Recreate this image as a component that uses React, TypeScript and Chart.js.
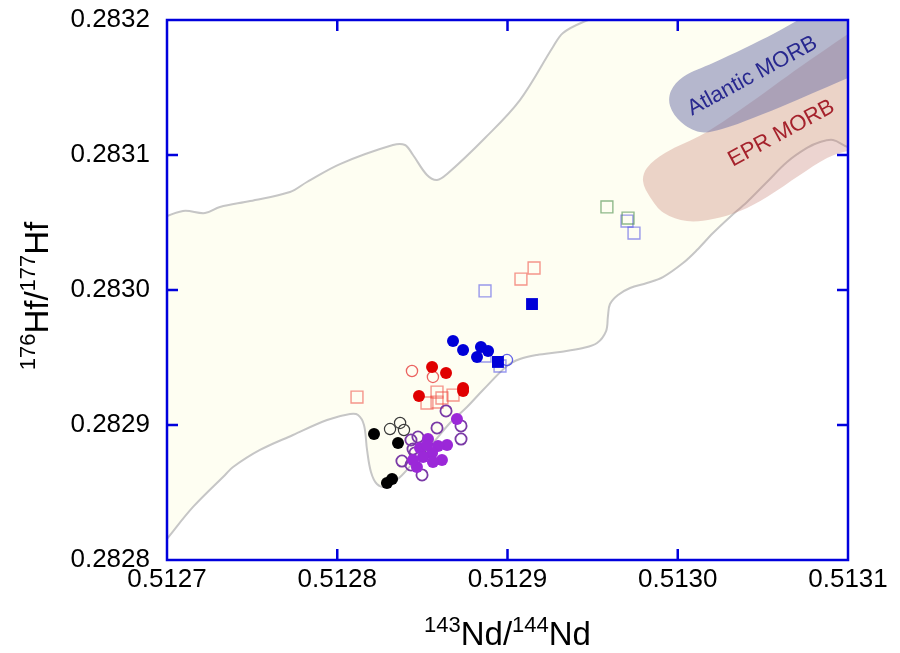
import React, { useEffect, useRef } from 'react';
import { Chart, registerables } from 'chart.js';

Chart.register(...registerables);

// Axis ticks
const ND_TICKS = [0.5127, 0.5128, 0.5129, 0.513, 0.5131];
const HF_TICKS = [0.2828, 0.2829, 0.283, 0.2831, 0.2832];

// Shaded mantle array envelope outline, [143Nd/144Nd, 176Hf/177Hf]
const envelopeOutline: [number, number][] = [
  [0.512693, 0.2830511], [0.5127094, 0.2830585], [0.5127223, 0.283057], [0.5127311, 0.2830615],
  [0.5127488, 0.2830659], [0.5127722, 0.2830726], [0.5127822, 0.28308], [0.5128016, 0.2830933],
  [0.5128327, 0.2831074], [0.5128398, 0.2831074], [0.5128445, 0.2831], [0.5128527, 0.2830852],
  [0.5128586, 0.2830815], [0.5128645, 0.2830859], [0.5128868, 0.2831126], [0.5129073, 0.2831407],
  [0.5129267, 0.28318], [0.5129326, 0.2831904], [0.5129444, 0.2831985], [0.5129573, 0.2832037],
  [0.5129778, 0.2832111], [0.5131129, 0.2832111], [0.5131129, 0.2831037],
  [0.5131, 0.2831059], [0.5130912, 0.2831111], [0.5130836, 0.2831096], [0.5130759, 0.2831052],
  [0.5130642, 0.2830948], [0.5130524, 0.28308], [0.5130407, 0.2830652], [0.5130307, 0.2830541],
  [0.5130207, 0.2830422], [0.5130113, 0.2830296], [0.5130031, 0.28302], [0.5129913, 0.2830096],
  [0.5129819, 0.2830052], [0.512972, 0.2830015], [0.5129649, 0.2829963], [0.5129602, 0.2829896],
  [0.512959, 0.2829807], [0.5129579, 0.2829696], [0.5129526, 0.2829607], [0.5129444, 0.282957],
  [0.5129308, 0.2829541], [0.5129173, 0.2829519], [0.5129073, 0.2829489], [0.5128997, 0.2829437],
  [0.5128856, 0.2829259], [0.5128762, 0.2829133], [0.5128662, 0.2829015], [0.5128562, 0.2828867],
  [0.5128445, 0.2828718], [0.5128369, 0.2828615], [0.5128286, 0.2828541], [0.5128233, 0.2828563],
  [0.5128198, 0.2828652], [0.5128175, 0.2828815], [0.5128157, 0.2829], [0.5128122, 0.2829074],
  [0.5128075, 0.2829081], [0.512794, 0.2829037], [0.512774, 0.2828926], [0.5127546, 0.2828815],
  [0.5127388, 0.2828689], [0.5127341, 0.282863], [0.5127153, 0.2828393], [0.5127, 0.2828156],
  [0.51269, 0.2828],
];

// MORB fields
const atlanticMorbOutline: [number, number][] = [
  [0.5131129, 0.2832148], [0.5131129, 0.283163], [0.5131, 0.283157], [0.5130836, 0.2831481],
  [0.5130659, 0.2831385], [0.5130442, 0.2831274], [0.513026, 0.2831193], [0.5130131, 0.283117],
  [0.5130019, 0.2831244], [0.5129955, 0.2831363], [0.512996, 0.2831474], [0.5130031, 0.2831578],
  [0.5130207, 0.2831681], [0.5130395, 0.2831793], [0.5130571, 0.2831904], [0.5130718, 0.2832007],
  [0.5130865, 0.2832111],
];
const eprMorbOutline: [number, number][] = [
  [0.5131159, 0.2832074], [0.5131159, 0.2831037], [0.5131, 0.283103], [0.5130877, 0.2830978],
  [0.5130718, 0.2830852], [0.5130524, 0.2830689], [0.5130366, 0.2830585], [0.5130207, 0.2830526],
  [0.5130054, 0.2830511], [0.5129919, 0.283057], [0.5129837, 0.2830689], [0.5129796, 0.2830807],
  [0.5129819, 0.2830904], [0.5129925, 0.2831015], [0.513016, 0.2831163], [0.5130424, 0.2831385],
  [0.5130718, 0.2831652], [0.5131, 0.2831896],
];

// Samples
const blackFilled: [number, number][] = [
  [0.5128216, 0.2828933], [0.5128357, 0.2828867], [0.5128292, 0.282857], [0.5128322, 0.28286],
];
const blackOpen: [number, number][] = [
  [0.512831, 0.282897], [0.5128369, 0.2829015], [0.5128392, 0.2828963],
];
const redFilled: [number, number][] = [
  [0.5128557, 0.282943], [0.5128639, 0.2829385], [0.512848, 0.2829215], [0.5128739, 0.2829274],
  [0.5128739, 0.2829252],
];
const redOpen: [number, number][] = [
  [0.5128439, 0.28294], [0.5128562, 0.2829356],
];
const redOpenSquares: [number, number][] = [
  [0.5128116, 0.2829207], [0.5129079, 0.2830081], [0.5129156, 0.2830163], [0.5128527, 0.2829163],
  [0.5128586, 0.2829244], [0.5128615, 0.28292], [0.512868, 0.2829222], [0.5128586, 0.282917],
];
const blueFilled: [number, number][] = [
  [0.512868, 0.2829622], [0.5128739, 0.2829556], [0.5128844, 0.2829578], [0.5128886, 0.2829548],
  [0.5128821, 0.2829504],
];
const blueFilledSquares: [number, number][] = [
  [0.5128944, 0.2829467], [0.5129144, 0.2829896],
];
const blueOpen: [number, number][] = [
  [0.5128997, 0.2829481],
];
const blueOpenSquares: [number, number][] = [
  [0.5128868, 0.2829993], [0.5128868, 0.2829511], [0.5128956, 0.2829437], [0.5129702, 0.2830511],
  [0.5129743, 0.2830422],
];
const greenOpenSquares: [number, number][] = [
  [0.5129584, 0.2830615], [0.5129708, 0.2830533],
];
const purpleFilled: [number, number][] = [
  [0.5128703, 0.2829044], [0.5128533, 0.2828896], [0.5128645, 0.2828852], [0.5128592, 0.2828844],
  [0.5128486, 0.282883], [0.5128557, 0.2828793], [0.5128504, 0.2828763], [0.5128615, 0.2828741],
  [0.5128468, 0.2828689], [0.5128562, 0.2828726], [0.5128445, 0.2828741], [0.5128527, 0.2828852],
];
const purpleOpen: [number, number][] = [
  [0.5128639, 0.2829104], [0.5128586, 0.2828978], [0.5128727, 0.2828993], [0.5128727, 0.2828896],
  [0.5128433, 0.2828889], [0.5128474, 0.2828911], [0.5128445, 0.2828822], [0.512838, 0.2828733],
  [0.5128433, 0.2828704], [0.5128498, 0.282863], [0.5128457, 0.2828793], [0.5128545, 0.2828822],
];

// Field names placed inside the MORB fields
const fieldLabels = [
  { text: 'Atlantic MORB', nd: 0.5130439, hf: 0.2831585, color: '#28288f' },
  { text: 'EPR MORB', nd: 0.5130609, hf: 0.283116, color: '#a5222c' },
];

const FONT = "'Liberation Sans', Arial, Helvetica, sans-serif";
const FRAME_COLOR = '#0000dd';

type Part = [string, boolean];
const ndTitle: Part[] = [['143', true], ['Nd/', false], ['144', true], ['Nd', false]];
const hfTitle: Part[] = [['176', true], ['Hf/', false], ['177', true], ['Hf', false]];

const toXY = (pts: [number, number][]) => pts.map(([x, y]) => ({ x, y }));

function drawRich(ctx: CanvasRenderingContext2D, parts: Part[], x: number, y: number, rot: number, big: number, small: number) {
  ctx.save();
  ctx.translate(x, y);
  ctx.rotate(rot);
  ctx.fillStyle = '#000';
  ctx.textBaseline = 'alphabetic';
  ctx.textAlign = 'left';
  const widths = parts.map(([t, sup]) => {
    ctx.font = `${sup ? small : big}px ${FONT}`;
    return ctx.measureText(t).width;
  });
  let cx = -widths.reduce((a, b) => a + b, 0) / 2;
  parts.forEach(([t, sup], i) => {
    ctx.font = `${sup ? small : big}px ${FONT}`;
    ctx.fillText(t, cx, sup ? -big * 0.4 : 0);
    cx += widths[i];
  });
  ctx.restore();
}

const decorations = {
  id: 'decorations',
  afterDatasetsDraw(chart: any) {
    const { ctx, chartArea: a, scales } = chart;
    const xs = scales.x;
    const ys = scales.y;

    // field names
    fieldLabels.forEach((l) => {
      ctx.save();
      ctx.translate(xs.getPixelForValue(l.nd), ys.getPixelForValue(l.hf));
      ctx.rotate((-28.5 * Math.PI) / 180);
      ctx.font = `22px ${FONT}`;
      ctx.fillStyle = l.color;
      ctx.textAlign = 'center';
      ctx.textBaseline = 'middle';
      ctx.fillText(l.text, 0, 0);
      ctx.restore();
    });

    // frame with inward ticks on all sides
    ctx.save();
    ctx.strokeStyle = FRAME_COLOR;
    ctx.lineWidth = 2.5;
    ctx.strokeRect(a.left, a.top, a.right - a.left, a.bottom - a.top);
    ctx.beginPath();
    ND_TICKS.slice(1, -1).forEach((v) => {
      const px = xs.getPixelForValue(v);
      ctx.moveTo(px, a.bottom);
      ctx.lineTo(px, a.bottom - 11);
      ctx.moveTo(px, a.top);
      ctx.lineTo(px, a.top + 11);
    });
    HF_TICKS.slice(1, -1).forEach((v) => {
      const py = ys.getPixelForValue(v);
      ctx.moveTo(a.left, py);
      ctx.lineTo(a.left + 11, py);
      ctx.moveTo(a.right, py);
      ctx.lineTo(a.right - 11, py);
    });
    ctx.stroke();
    ctx.restore();
  },
  afterDraw(chart: any) {
    const { ctx, chartArea: a } = chart;
    drawRich(ctx, ndTitle, (a.left + a.right) / 2, 645, 0, 33, 22);
    drawRich(ctx, hfTitle, 48, (a.top + a.bottom) / 2 + 6, -Math.PI / 2, 33, 22);
  },
};

const circles = (data: [number, number][], fill: string | null, stroke: string, order: number, bw = 1.3, r = 5.6) => ({
  data: toXY(data),
  pointStyle: 'circle',
  pointRadius: r,
  pointBackgroundColor: fill ?? 'rgba(0,0,0,0)',
  pointBorderColor: stroke,
  pointBorderWidth: fill ? 0 : bw,
  showLine: false,
  order,
});

const squares = (data: [number, number][], fill: string | null, stroke: string, order: number) => ({
  data: toXY(data),
  pointStyle: 'rect',
  pointRadius: 8.4,
  pointBackgroundColor: fill ?? 'rgba(0,0,0,0)',
  pointBorderColor: stroke,
  pointBorderWidth: fill ? 0 : 1.4,
  showLine: false,
  order,
});

const area = (data: [number, number][], fill: string, border: string, bw: number, order: number) => ({
  data: toXY(data),
  showLine: true,
  fill: 'shape',
  backgroundColor: fill,
  borderColor: border,
  borderWidth: bw,
  pointRadius: 0,
  pointHoverRadius: 0,
  tension: 0.35,
  order,
});

export default function App() {
  const ref = useRef<HTMLCanvasElement | null>(null);

  useEffect(() => {
    if (!ref.current) return;
    const tickFont = { size: 26, family: FONT };
    const chart = new Chart(ref.current, {
      type: 'scatter',
      data: {
        datasets: [
          area(envelopeOutline, 'rgb(254,254,242)', '#c6c6c6', 2, 30),
          area(eprMorbOutline, 'rgba(200,128,118,0.34)', 'rgba(0,0,0,0)', 0, 29),
          area(atlanticMorbOutline, 'rgba(108,112,168,0.5)', 'rgba(0,0,0,0)', 0, 28),
          squares(greenOpenSquares, null, 'rgba(70,140,70,0.6)', 12),
          squares(blueOpenSquares, null, 'rgba(70,70,230,0.55)', 12),
          squares(redOpenSquares, null, 'rgba(240,80,70,0.6)', 12),
          circles(blackOpen, null, '#3a3a3a', 10, 1.2),
          circles(redOpen, null, 'rgba(230,60,60,0.8)', 10, 1.3),
          circles(blueOpen, null, 'rgba(60,60,230,0.8)', 10, 1.3),
          circles(purpleOpen, null, '#7a3aa6', 9, 1.8),
          circles(blackFilled, '#000000', '#000000', 5, 0, 6),
          circles(redFilled, '#e00000', '#e00000', 5, 0, 6),
          circles(blueFilled, '#0000d8', '#0000d8', 5, 0, 6),
          circles(purpleFilled, '#9b28d8', '#9b28d8', 4, 0, 6),
          squares(blueFilledSquares, '#0000d8', '#0000d8', 3),
        ] as any,
      },
      options: {
        responsive: false,
        animation: false,
        events: [],
        layout: { padding: { top: 20, right: 52, left: 0, bottom: 0 } },
        elements: { line: { capBezierPoints: false } },
        scales: {
          x: {
            type: 'linear',
            min: 0.5127,
            max: 0.5131,
            afterBuildTicks: (s: any) => {
              s.ticks = ND_TICKS.map((value) => ({ value }));
            },
            afterFit: (s: any) => {
              s.height = 93;
              s.paddingLeft = 0;
              s.paddingRight = 0;
            },
            ticks: {
              callback: (v: any) => Number(v).toFixed(4),
              font: tickFont,
              color: '#000',
              padding: 4,
              maxRotation: 0,
              minRotation: 0,
              autoSkip: false,
            },
            grid: { display: false, drawTicks: false },
            border: { display: false },
          },
          y: {
            type: 'linear',
            min: 0.2828,
            max: 0.2832,
            afterBuildTicks: (s: any) => {
              s.ticks = HF_TICKS.map((value) => ({ value }));
            },
            afterFit: (s: any) => {
              s.width = 167;
              s.paddingTop = 0;
              s.paddingBottom = 0;
            },
            ticks: {
              callback: (v: any) => Number(v).toFixed(4),
              font: tickFont,
              color: '#000',
              padding: 17,
              autoSkip: false,
            },
            grid: { display: false, drawTicks: false },
            border: { display: false },
          },
        },
        plugins: { legend: { display: false }, tooltip: { enabled: false } },
      },
      plugins: [decorations],
    } as any);
    return () => chart.destroy();
  }, []);

  return (
    <div style={{ position: 'absolute', left: 0, top: 0, width: 900, height: 653, background: '#fff' }}>
      <canvas ref={ref} width={900} height={653} style={{ display: 'block' }} />
    </div>
  );
}
